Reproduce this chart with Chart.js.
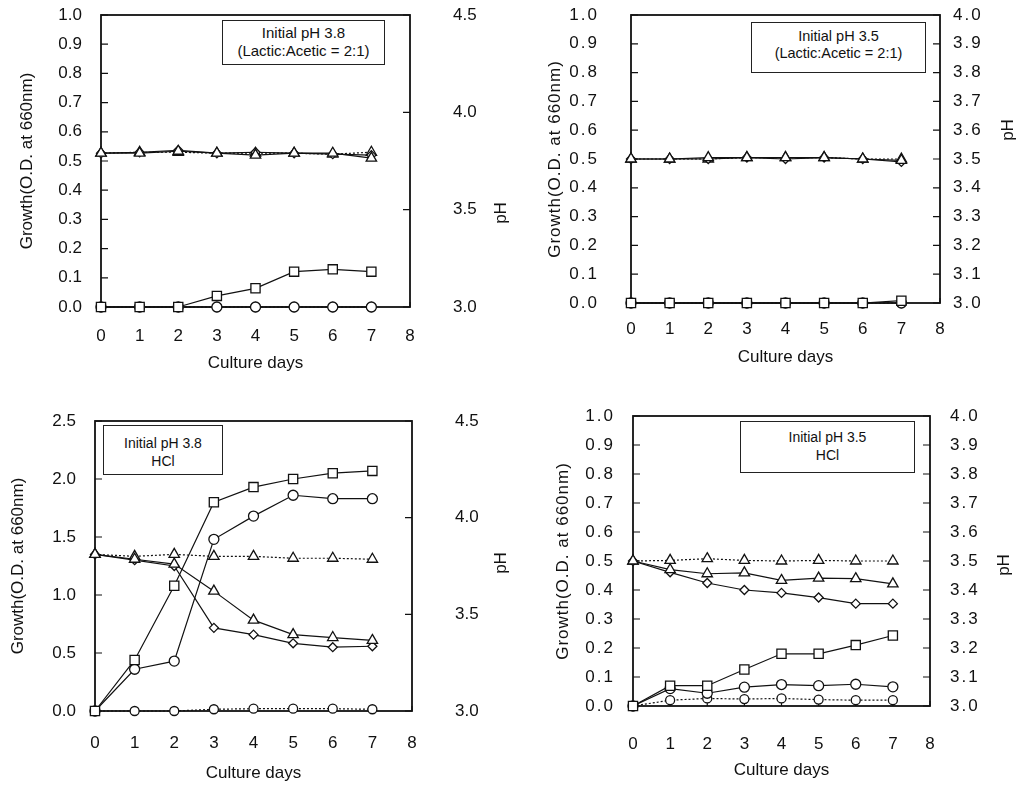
<!DOCTYPE html>
<html><head><meta charset="utf-8">
<script src="https://cdn.jsdelivr.net/npm/chart.js@4.4.0/dist/chart.umd.min.js"></script>
<style>
html,body{margin:0;padding:0;background:#fff;}
body{width:1022px;height:789px;overflow:hidden;position:relative;font-family:'Liberation Sans',Arial,sans-serif;color:#111;}
canvas{position:absolute;}
.note{position:absolute;border:1px solid #222;background:#fff;text-align:center;box-sizing:border-box;white-space:nowrap;}
.ph{position:absolute;font-size:17px;line-height:17px;transform:translate(-50%,-50%) rotate(-90deg);white-space:nowrap;}
</style></head><body>
<canvas id="cA" width="525" height="380" style="left:0;top:0"></canvas>
<canvas id="cB" width="497" height="380" style="left:525px;top:0"></canvas>
<canvas id="cC" width="525" height="394" style="left:0;top:395px"></canvas>
<canvas id="cD" width="497" height="394" style="left:525px;top:395px"></canvas>
<div class="note" style="left:222px;top:20px;width:163px;height:45px;padding-top:3px;font-size:15px;line-height:18px">Initial pH 3.8<br>(Lactic:Acetic = 2:1)</div>
<div class="note" style="left:751px;top:22px;width:175px;height:51px;padding-top:5px;font-size:14.5px;line-height:17px">Initial pH 3.5<br>(Lactic:Acetic = 2:1)</div>
<div class="note" style="left:103px;top:425px;width:120px;height:50px;padding-top:8px;font-size:14px;line-height:18px">Initial pH 3.8<br>HCl</div>
<div class="note" style="left:740px;top:421px;width:175px;height:52px;padding-top:6px;font-size:14px;line-height:18px">Initial pH 3.5<br>HCl</div>
<div class="ph" style="left:500px;top:213px">pH</div>
<div class="ph" style="left:1007px;top:130px">pH</div>
<div class="ph" style="left:500px;top:563px">pH</div>
<div class="ph" style="left:1003px;top:565px">pH</div>
<script>
// ---------- data ----------
const days = [0, 1, 2, 3, 4, 5, 6, 7];

// Panel A: initial pH 3.8, lactic:acetic = 2:1
const aSquare   = [0, 0, 0, 0.038, 0.064, 0.121, 0.129, 0.121];
const aCircle   = [0, 0, 0, 0, 0, 0, 0, 0];
const aCtrlGrow = [0, 0, 0, 0, 0, 0, 0, 0];
const aTriangle = [3.79, 3.79, 3.80, 3.79, 3.78, 3.79, 3.79, 3.765];
const aDiamond  = [3.79, 3.795, 3.805, 3.79, 3.795, 3.79, 3.785, 3.78];
const aCtrlPh   = [3.79, 3.795, 3.795, 3.79, 3.79, 3.79, 3.785, 3.795];

// Panel B: initial pH 3.5, lactic:acetic = 2:1
const bSquare   = [0, 0, 0, 0, 0, 0, 0, 0.008];
const bCircle   = [0, 0, 0, 0, 0, 0, 0, 0];
const bCtrlGrow = [0, 0, 0, 0, 0, 0, 0, 0];
const bTriangle = [3.50, 3.50, 3.505, 3.505, 3.505, 3.505, 3.50, 3.495];
const bDiamond  = [3.50, 3.50, 3.50, 3.505, 3.50, 3.505, 3.50, 3.49];
const bCtrlPh   = [3.50, 3.50, 3.50, 3.505, 3.505, 3.505, 3.50, 3.50];

// Panel C: initial pH 3.8, HCl
const cSquare   = [0, 0.44, 1.08, 1.80, 1.93, 2.00, 2.05, 2.07];
const cCircle   = [0, 0.36, 0.43, 1.48, 1.68, 1.86, 1.83, 1.83];
const cCtrlGrow = [0, 0, 0, 0.015, 0.02, 0.02, 0.02, 0.015];
const cTriangle = [3.81, 3.785, 3.76, 3.62, 3.47, 3.395, 3.38, 3.365];
const cDiamond  = [3.81, 3.78, 3.75, 3.43, 3.395, 3.35, 3.33, 3.335];
const cCtrlPh   = [3.81, 3.80, 3.81, 3.80, 3.80, 3.79, 3.79, 3.785];

// Panel D: initial pH 3.5, HCl
const dSquare   = [0, 0.07, 0.07, 0.126, 0.18, 0.18, 0.21, 0.243];
const dCircle   = [0, 0.06, 0.044, 0.065, 0.074, 0.07, 0.075, 0.066];
const dCtrlGrow = [0, 0.02, 0.026, 0.024, 0.026, 0.022, 0.02, 0.02];
const dTriangle = [3.50, 3.47, 3.456, 3.459, 3.433, 3.441, 3.439, 3.421];
const dDiamond  = [3.50, 3.461, 3.424, 3.40, 3.39, 3.374, 3.353, 3.353];
const dCtrlPh   = [3.50, 3.502, 3.508, 3.502, 3.50, 3.502, 3.50, 3.50];

// axis ranges
const growthMaxAB = 1.0, growthStepAB = 0.1;
const growthMaxC = 2.5, growthStepC = 0.5;
const growthMaxD = 1.0, growthStepD = 0.1;
const phRangeA = [3.0, 4.5], phStepA = 0.5;
const phRangeB = [3.0, 4.0], phStepB = 0.1;
const phRangeC = [3.0, 4.5], phStepC = 0.5;
const phRangeD = [3.0, 4.0], phStepD = 0.1;

// ---------- rendering ----------
const INK = '#111';
const FONT = "'Liberation Sans', Arial, sans-serif";

function pts(arr) { return arr.map((v, i) => ({ x: days[i], y: v })); }

function series(values, axis, style, radius, dashed) {
  return {
    data: pts(values), yAxisID: axis,
    borderColor: INK, borderWidth: 1.2, borderDash: dashed ? [2, 2] : [],
    pointStyle: style, pointRadius: radius, pointBorderWidth: 1.3,
    pointBackgroundColor: '#fff', pointBorderColor: INK,
    tension: 0, fill: false, clip: false
  };
}

const framePlugin = {
  id: 'frame',
  afterLayout(chart) {
    const sp = chart.options.plugins.frame;
    if (!sp.labels) return;
    ['y', 'y1'].forEach(id => {
      const s = chart.scales[id];
      if (s._spaced) return;
      [['drawLabels', sp.labels], ['drawTitle', sp.title]].forEach(([fn, ls]) => {
        const orig = s[fn].bind(s);
        s[fn] = function (area) { const c = this.ctx; c.save(); c.letterSpacing = ls; orig(area); c.restore(); };
      });
      s._spaced = true;
    });
  },
  beforeDatasetsDraw(chart) {
    const { ctx, chartArea: a, scales } = chart;
    ctx.save();
    ctx.strokeStyle = INK;
    ctx.lineWidth = 1.2;
    ctx.beginPath();
    scales.y.ticks.forEach(t => { const p = scales.y.getPixelForValue(t.value); ctx.moveTo(a.left, p); ctx.lineTo(a.left + 7, p); });
    scales.y1.ticks.forEach(t => { const p = scales.y1.getPixelForValue(t.value); ctx.moveTo(a.right, p); ctx.lineTo(a.right - 7, p); });
    scales.x.ticks.forEach(t => { const p = scales.x.getPixelForValue(t.value); ctx.moveTo(p, a.bottom); ctx.lineTo(p, a.bottom - 5); });
    ctx.stroke();
    ctx.lineWidth = 1.8;
    ctx.strokeRect(a.left, a.top, a.right - a.left, a.bottom - a.top);
    ctx.restore();
  }
};

function makeChart(id, sets, cfg) {
  const tickFont = { family: FONT, size: 17 };
  new Chart(document.getElementById(id), {
    type: 'line',
    data: {
      datasets: [
        series(sets[0], 'y', 'rect', 6.5, false),
        series(sets[1], 'y', 'circle', 5, false),
        series(sets[2], 'y', 'circle', 4.5, true),
        series(sets[3], 'y1', 'triangle', 6, false),
        series(sets[4], 'y1', 'rectRot', 4.5, false),
        series(sets[5], 'y1', 'triangle', 6, true)
      ]
    },
    options: {
      responsive: false, animation: false, devicePixelRatio: 1,
      layout: { padding: { top: cfg.top, left: 0, right: 0, bottom: 0 }, autoPadding: false },
      plugins: { legend: { display: false }, tooltip: { enabled: false }, frame: { labels: cfg.spacing, title: cfg.titleSpacing } },
      scales: {
        x: {
          type: 'linear', min: 0, max: 8,
          ticks: { stepSize: 1, color: INK, font: tickFont, padding: cfg.xPad, maxRotation: 0, autoSkip: false },
          grid: { display: false, drawTicks: false }, border: { display: false },
          title: { display: true, text: 'Culture days', color: INK, font: { family: FONT, size: 17 }, padding: { top: 0, bottom: cfg.xTitlePad } },
          afterFit(s) { s.height = cfg.bottomH; s.paddingLeft = 0; s.paddingRight = 0; }
        },
        y: {
          position: 'left', min: 0, max: cfg.gMax,
          ticks: { stepSize: cfg.gStep, color: INK, font: tickFont, padding: cfg.yPad, callback: v => Number(v).toFixed(1) },
          grid: { display: false, drawTicks: false }, border: { display: false },
          title: { display: true, text: 'Growth(O.D. at 660nm)', color: INK, font: { family: FONT, size: 17 }, padding: { top: cfg.yTitlePad, bottom: 0 } },
          afterFit(s) { s.width = cfg.leftW; s.paddingTop = 0; s.paddingBottom = 0; }
        },
        y1: {
          position: 'right', min: cfg.ph[0], max: cfg.ph[1],
          ticks: { stepSize: cfg.phStep, color: INK, font: tickFont, padding: cfg.y1Pad, callback: v => Number(v).toFixed(1) },
          grid: { display: false, drawTicks: false }, border: { display: false },
          afterFit(s) { s.width = cfg.rightW; s.paddingTop = 0; s.paddingBottom = 0; }
        }
      }
    },
    plugins: [framePlugin]
  });
}

makeChart('cA', [aSquare, aCircle, aCtrlGrow, aTriangle, aDiamond, aCtrlPh],
  { top: 15, leftW: 101, rightW: 115, bottomH: 73, gMax: growthMaxAB, gStep: growthStepAB, ph: phRangeA, phStep: phStepA,
    xPad: 19, xTitlePad: 6, yPad: 19, yTitlePad: 17, y1Pad: 43, spacing: '', titleSpacing: '' });
makeChart('cB', [bSquare, bCircle, bCtrlGrow, bTriangle, bDiamond, bCtrlPh],
  { top: 15, leftW: 106, rightW: 82, bottomH: 77, gMax: growthMaxAB, gStep: growthStepAB, ph: phRangeB, phStep: phStepB,
    xPad: 16, xTitlePad: 12, yPad: 32, yTitlePad: 20, y1Pad: 13, spacing: '2px', titleSpacing: '1px' });
makeChart('cC', [cSquare, cCircle, cCtrlGrow, cTriangle, cDiamond, cCtrlPh],
  { top: 26, leftW: 95, rightW: 113, bottomH: 78, gMax: growthMaxC, gStep: growthStepC, ph: phRangeC, phStep: phStepC,
    xPad: 22, xTitlePad: 5, yPad: 19, yTitlePad: 8, y1Pad: 43, spacing: '', titleSpacing: '' });
makeChart('cD', [dSquare, dCircle, dCtrlGrow, dTriangle, dDiamond, dCtrlPh],
  { top: 21, leftW: 108, rightW: 92, bottomH: 83, gMax: growthMaxD, gStep: growthStepD, ph: phRangeD, phStep: phStepD,
    xPad: 28, xTitlePad: 8, yPad: 18, yTitlePad: 28, y1Pad: 20, spacing: '2px', titleSpacing: '1px' });
</script>
</body></html>
